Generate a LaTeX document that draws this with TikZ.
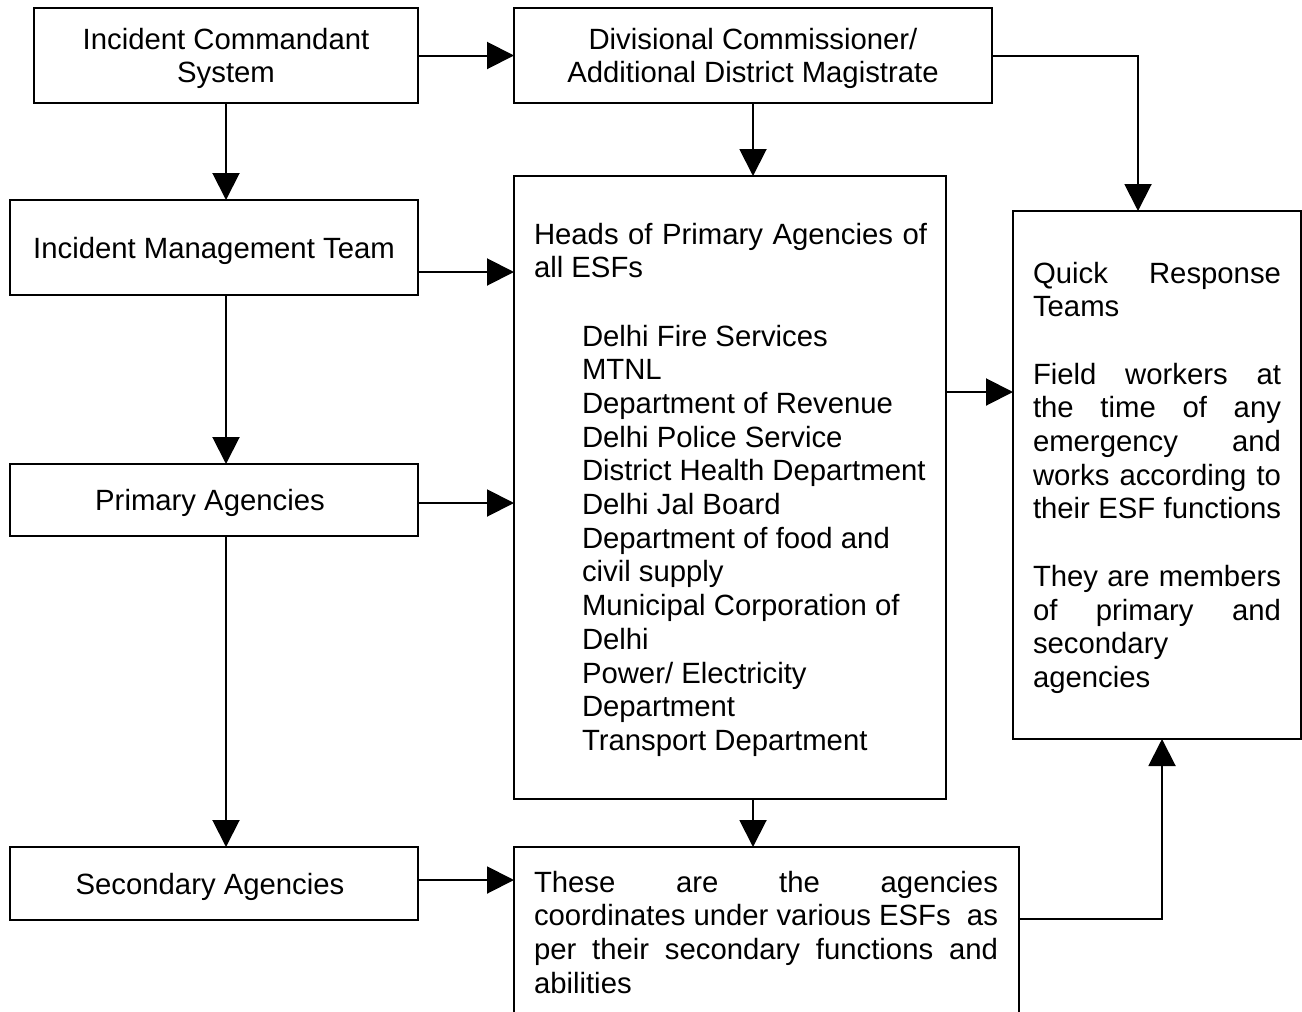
\documentclass[tikz,border=0pt]{standalone}
\usepackage{fontspec}
\setmainfont{Liberation Sans}
\usetikzlibrary{arrows.meta}
\newcommand\dfont{\fontsize{29.3pt}{33.7pt}\selectfont}
\begin{document}
\begin{tikzpicture}[x=1pt,y=-1pt,
  box/.style={draw, line width=2pt, inner sep=0pt, outer sep=0pt, font=\dfont, align=center, text depth=0pt},
  txt/.style={anchor=north west, inner sep=0pt, outer sep=0pt, font=\dfont, align=left},
  arr/.style={line width=2pt, -{Triangle[length=27pt,width=27pt]}}]
\fill[white] (0,0) rectangle (1302,1012);
\useasboundingbox (0,0) rectangle (1302,1012);
% boxes
\node[box, minimum width=384pt, minimum height=95pt] (ics) at (226,55.5) {Incident Commandant\\System};
\node[box, minimum width=478pt, minimum height=95pt] (div) at (753,55.5) {Divisional Commissioner/\\Additional District Magistrate};
\node[box, minimum width=408pt, minimum height=95pt] (imt) at (214,247.5) {Incident Management Team};
\node[box, minimum width=432pt, minimum height=623pt] (heads) at (730,487.5) {};
\node[box, minimum width=288pt, minimum height=528pt] (qrt) at (1157,475) {};
\node[box, minimum width=408pt, minimum height=72pt] (prim) at (214,500) {Primary Agencies\hspace*{8pt}};
\node[box, minimum width=408pt, minimum height=73pt] (sec) at (214,883.5) {Secondary Agencies\hspace*{8pt}};
\node[box, minimum width=505pt, minimum height=183pt] (these) at (766.5,938.5) {};
% texts in tall boxes
\node[txt] (htxt) at (534,219) {\rule{0pt}{25pt}\makebox[393pt][s]{Heads of Primary Agencies of}\\all ESFs};
\node[txt] (hlist) at (582,321) {\rule{0pt}{25pt}Delhi Fire Services\\MTNL\\Department of Revenue\\Delhi Police Service\\District Health Department\\Delhi Jal Board\\Department of food and\\civil supply\\Municipal Corporation of\\Delhi\\Power/ Electricity\\Department\\Transport Department};
\node[txt] (qtxt) at (1033,258) {\rule{0pt}{25pt}\makebox[248pt][s]{Quick Response}\\Teams\\[33.7pt]\makebox[248pt][s]{Field workers at}\\\makebox[248pt][s]{the time of any}\\\makebox[248pt][s]{emergency and}\\\makebox[248pt][s]{works according to}\\\makebox[248pt][s]{their ESF functions}\\[33.7pt]\makebox[248pt][s]{They are members}\\\makebox[248pt][s]{of primary and}\\secondary\\agencies};
\node[txt] (ttxt) at (534,867) {\rule{0pt}{25pt}\makebox[464pt][s]{These are the agencies}\\\makebox[464pt][s]{coordinates under various ESFs\ \ as}\\\makebox[464pt][s]{per their secondary functions and}\\abilities};
% connectors
\draw[arr] (ics.east) -- (div.west);
\draw[arr] (ics.south) -- (ics.south |- imt.north);
\draw[arr] (div.south) -- (div.south |- heads.north);
\draw[arr] (div.east) -| ([xshift=-19pt]qrt.north);
\coordinate (c5) at ([yshift=-24.5pt]imt.east);
\draw[arr] (c5) -- (c5 -| heads.west);
\coordinate (c6) at (ics.south |- imt.south);
\draw[arr] (c6) -- (c6 |- prim.north);
\coordinate (c7) at ([yshift=-3pt]prim.east);
\draw[arr] (c7) -- (c7 -| heads.west);
\coordinate (c8) at ([yshift=95.5pt]heads.east);
\draw[arr] (c8) -- (c8 -| qrt.west);
\coordinate (c9) at (ics.south |- prim.south);
\draw[arr] (c9) -- (c9 |- sec.north);
\coordinate (c10) at (div.south |- heads.south);
\draw[arr] (c10) -- (c10 |- these.north);
\coordinate (c11) at ([yshift=3.5pt]sec.east);
\draw[arr] (c11) -- (c11 -| these.west);
\coordinate (c12) at ([yshift=19.5pt]these.east);
\draw[arr] (c12) -| ([xshift=5pt]qrt.south);
\end{tikzpicture}
\end{document}
